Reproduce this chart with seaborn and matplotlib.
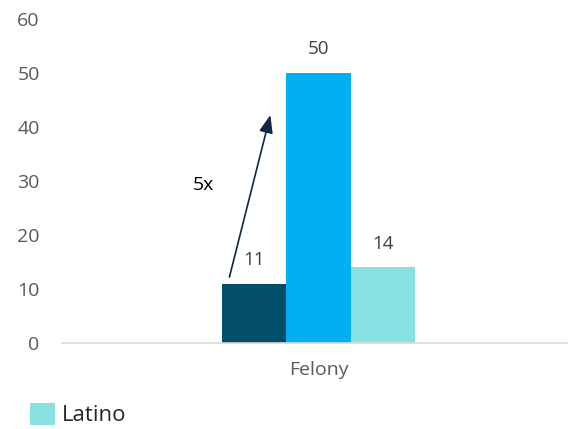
import matplotlib
matplotlib.use("Agg")
import matplotlib.pyplot as plt
import seaborn as sns
import pandas as pd
from matplotlib.patches import Patch

categories = ["Felony"]
groups = ["Group 1", "Group 2", "Latino"]
values = [11, 50, 14]
colors = ["#034E68", "#00B0F0", "#88E0E0"]
y_ticks = [0, 10, 20, 30, 40, 50, 60]
ratio_label = "5x"

df = pd.DataFrame({"category": categories * len(groups), "group": groups, "value": values})

sns.set_theme(style="white")
plt.rcParams["font.family"] = ["Open Sans", "DejaVu Sans"]

fig = plt.figure(figsize=(5.68, 4.29), dpi=100)
ax = fig.add_axes([0.109, 0.2005, 0.891, 0.7555])

sns.barplot(data=df, x="category", y="value", hue="group", palette=colors,
            width=0.8, saturation=1, ax=ax, legend=False, linewidth=0)

for c in ax.containers:
    ax.bar_label(c, fmt="%d", padding=10.5, fontsize=13.5, color="#404040")

ax.set_ylim(0, 60)
ax.set_xlim(-1.065, 1.035)
ax.set_yticks(y_ticks)
ax.tick_params(axis="y", length=0, labelsize=14, labelcolor="#595959", pad=16)
ax.tick_params(axis="x", length=0, labelsize=14, labelcolor="#595959", pad=13)
ax.set_xlabel("")
ax.set_ylabel("")
for s in ["top", "right", "left"]:
    ax.spines[s].set_visible(False)
ax.spines["bottom"].set_color("#D9D9D9")
ax.spines["bottom"].set_linewidth(1.2)

ax.annotate("", xy=(-0.20, 42.2), xytext=(-0.37, 12.2),
            arrowprops=dict(arrowstyle="-|>,head_length=0.9,head_width=0.35",
                            color="#0E2841", lw=1.2, shrinkA=0, shrinkB=0))
ax.text(-0.476, 29.3, ratio_label, fontsize=14, color="black", ha="center", va="center")

handle = [Patch(facecolor=colors[2], edgecolor="none", label=groups[2])]
fig.legend(handles=handle, loc="lower left", bbox_to_anchor=(0.052, 0.006),
           frameon=False, fontsize=16, handlelength=1.15, handleheight=1.15,
           handletextpad=0.3, borderaxespad=0, borderpad=0)

fig.savefig("out.png", dpi=100)
